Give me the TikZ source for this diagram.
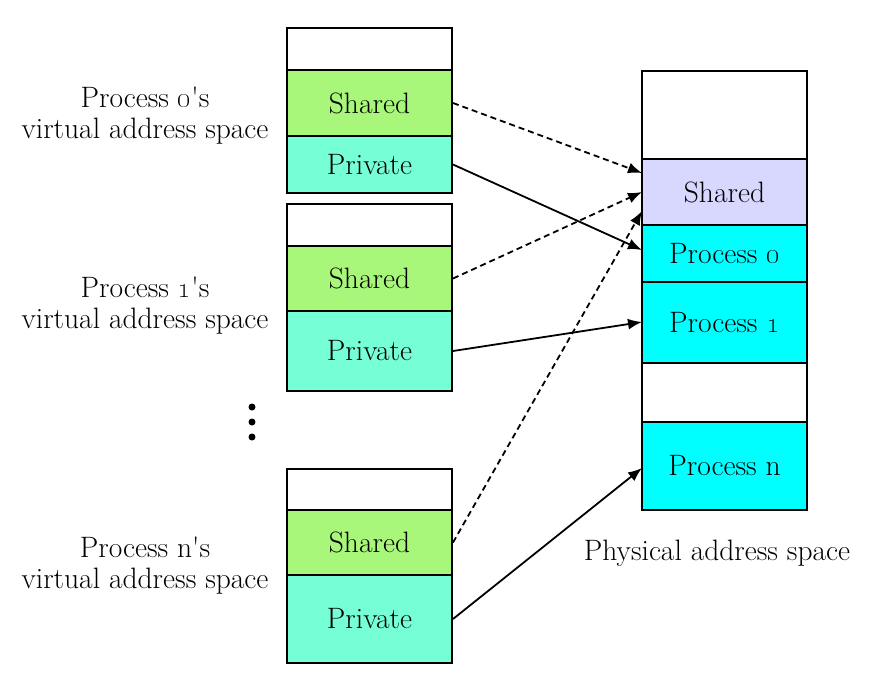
\documentclass[tikz,border=0pt]{standalone}
\usetikzlibrary{arrows.meta}
\definecolor{shgreen}{RGB}{168,247,122}
\definecolor{pvaqua}{RGB}{118,255,214}
\definecolor{lav}{RGB}{216,216,255}
\definecolor{procyan}{RGB}{0,255,255}
\tikzset{
  cell/.style={draw=black, line width=2pt, minimum width=165pt, inner sep=0pt, font=\fontsize{29.5}{31}\selectfont},
  lbl/.style={align=center, font=\fontsize{29.5}{31}\selectfont, inner sep=0pt},
  conn/.style={line width=1.8pt, -{Latex[length=14pt,width=11pt]}},
  dconn/.style={conn, dash pattern=on 6pt off 4pt}
}
\newcommand{\os}[1]{\oldstylenums{#1}}
\begin{document}
\begin{tikzpicture}[x=1pt,y=-1pt]
\useasboundingbox (0,0) rectangle (876,689);
% block 0
\node[cell, fill=white, minimum height=42pt] (w0) at (369.5,49) {};
\node[cell, fill=shgreen, minimum height=66pt] (s0) at (369.5,103) {Shared};
\node[cell, fill=pvaqua, minimum height=57pt] (p0) at (369.5,164.5) {Private};
% block 1
\node[cell, fill=white, minimum height=42pt] (w1) at (369.5,225) {};
\node[cell, fill=shgreen, minimum height=65pt] (s1) at (369.5,278.5) {Shared};
\node[cell, fill=pvaqua, minimum height=80pt] (p1) at (369.5,351) {Private};
% block n
\node[cell, fill=white, minimum height=41pt] (wn) at (369.5,489.5) {};
\node[cell, fill=shgreen, minimum height=65pt] (sn) at (369.5,542.5) {Shared};
\node[cell, fill=pvaqua, minimum height=88pt] (pn) at (369.5,619) {Private};
% physical
\node[cell, fill=white, minimum height=88pt] (pw1) at (724.5,115) {};
\node[cell, fill=lav, minimum height=66pt] (psh) at (724.5,192) {Shared};
\node[cell, fill=procyan, minimum height=57pt] (pp0) at (724.5,253.5) {Process \os{0}};
\node[cell, fill=procyan, minimum height=81pt] (pp1) at (724.5,322.5) {Process \os{1}};
\node[cell, fill=white, minimum height=59pt] (pw2) at (724.5,392.5) {};
\node[cell, fill=procyan, minimum height=88pt] (ppn) at (724.5,466) {Process n};
% labels
\node[lbl] (l0) at (145,116) {Process \os{0}\textquotesingle s\\virtual address space};
\node[lbl] (l1) at (145,306) {Process \os{1}\textquotesingle s\\virtual address space};
\node[lbl] (ln) at (145,566) {Process n\textquotesingle s\\virtual address space};
\node[lbl] (lp) at (717,553) {Physical address space};
% dots
\foreach \yy/\nm in {407/d1,422/d2,437/d3} \fill (252,\yy) circle (3.5pt);
% targets
\coordinate (t0) at (642,173);
\coordinate (t1) at (642,192);
\coordinate (tn) at (642,211);
\coordinate (q0) at (642,250);
\coordinate (q1) at (642,322);
\coordinate (qn) at (642,468);
\draw[dconn] (s0.east) -- (t0);
\draw[dconn] (s1.east) -- (t1);
\draw[dconn] (sn.east) -- (tn);
\draw[conn] (p0.east) -- (q0);
\draw[conn] (p1.east) -- (q1);
\draw[conn] (pn.east) -- (qn);
\end{tikzpicture}
\end{document}
